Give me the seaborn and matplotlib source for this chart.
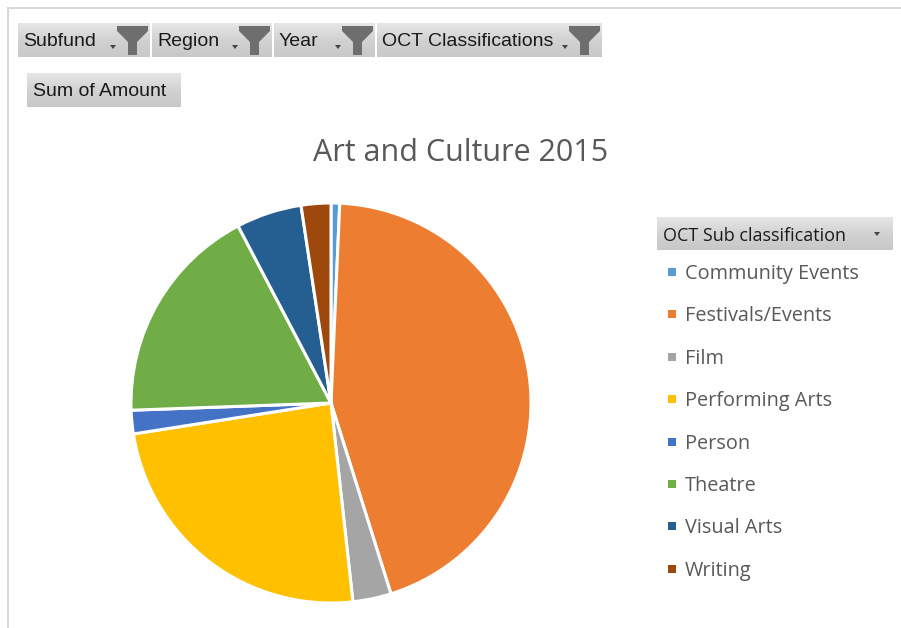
import numpy as np
import matplotlib
matplotlib.use("Agg")
import matplotlib.pyplot as plt
from matplotlib.patches import Rectangle, Polygon
import seaborn as sns

# pivot chart data (share of Sum of Amount)
categories = ["Community Events", "Festivals/Events", "Film", "Performing Arts",
              "Person", "Theatre", "Visual Arts", "Writing"]
amounts = [0.7, 44.5, 3.1, 24.3, 1.9, 17.9, 5.3, 2.4]
colors = ["#5B9BD5", "#ED7D31", "#A5A5A5", "#FFC000",
          "#4472C4", "#70AD47", "#255E91", "#9E480E"]
filter_buttons = ["Subfund", "Region", "Year", "OCT Classifications"]
title = "Art and Culture 2015"
legend_title = "OCT Sub classification"

sns.set_style("white")
plt.rcParams['font.family'] = ['Open Sans', 'DejaVu Sans']

W, H = 901, 628
fig = plt.figure(figsize=(W / 100, H / 100), dpi=100)
fig.patch.set_facecolor("white")


def fx(x):
    return x / W


def fy(y):
    return 1 - y / H


btn_font = ['Liberation Sans', 'DejaVu Sans']


def gray_button(x0, y0, x1, y1):
    # vertical gradient like the Excel field buttons
    bax = fig.add_axes([fx(x0), fy(y1), fx(x1) - fx(x0), (y1 - y0) / H])
    grad = np.linspace(0, 1, 50).reshape(-1, 1)
    bax.imshow(grad, aspect="auto", cmap=matplotlib.colors.LinearSegmentedColormap.from_list(
        "g", ["#e6e6e6", "#d2d2d2", "#c8c8c8"]), extent=[0, 1, 0, 1], origin="upper")
    bax.set_axis_off()


def funnel(x0, y0):
    pts = [(x0, y0), (x0 + 31, y0), (x0 + 31, y0 + 5), (x0 + 20, y0 + 16),
           (x0 + 20, y0 + 29), (x0 + 11, y0 + 29), (x0 + 11, y0 + 16), (x0, y0 + 5)]
    fig.patches.append(Polygon([(fx(a), fy(b)) for a, b in pts], closed=True,
                               facecolor="#6e6e6e", edgecolor="none",
                               transform=fig.transFigure, figure=fig))


def dropdown_mark(x, y):
    pts = [(x - 3, y - 2), (x + 3, y - 2), (x, y + 2)]
    fig.patches.append(Polygon([(fx(a), fy(b)) for a, b in pts], closed=True,
                               facecolor="#444444", edgecolor="none",
                               transform=fig.transFigure, figure=fig))


# chart border
fig.add_artist(plt.Line2D([fx(8), fx(901)], [fy(8), fy(8)], color="#d9d9d9", lw=1.5))
fig.add_artist(plt.Line2D([fx(8), fx(8)], [fy(8), fy(628)], color="#d9d9d9", lw=1.5))

# filter buttons
btn_boxes = [(18, 150), (152, 272), (274, 375), (377, 602)]
for label, (x0, x1) in zip(filter_buttons, btn_boxes):
    gray_button(x0, 23, x1, 57)
    fig.text(fx(x0 + 5), fy(42), label, family=btn_font, fontsize=14,
             color="#1a1a1a", va="center", ha="left")
    funnel(x1 - 33, 26)
    dropdown_mark(x1 - 37, 47)

gray_button(27, 73, 180, 107)
fig.text(fx(33), fy(92), "Sum of Amount", family=btn_font, fontsize=14,
         color="#1a1a1a", va="center", ha="left")

# title
fig.text(fx(461), fy(153), title, fontsize=22, color="#595959", ha="center", va="center")

# pie
ax = fig.add_axes([fx(131), fy(603), 400 / W, 400 / H])
ax.pie(amounts, colors=colors, startangle=90, counterclock=False, radius=1,
       wedgeprops=dict(edgecolor="white", linewidth=2.2))
ax.set_xlim(-1.0, 1.0)
ax.set_ylim(-1.0, 1.0)
ax.set_aspect("equal")
ax.set_axis_off()

# legend
gray_button(657, 217, 893, 250)
fig.text(fx(663), fy(236), legend_title, fontsize=13, color="#1a1a1a", va="center", ha="left")
dropdown_mark(877, 234)
for i, (cat, col) in enumerate(zip(categories, colors)):
    y = 272 + i * 42.4
    fig.patches.append(Rectangle((fx(668), fy(y + 4)), 8 / W, 8 / H, facecolor=col,
                                 edgecolor="none", transform=fig.transFigure, figure=fig))
    fig.text(fx(685), fy(y + 2), cat, fontsize=14.3, color="#595959", va="center", ha="left")

fig.savefig("out.png", dpi=100)
